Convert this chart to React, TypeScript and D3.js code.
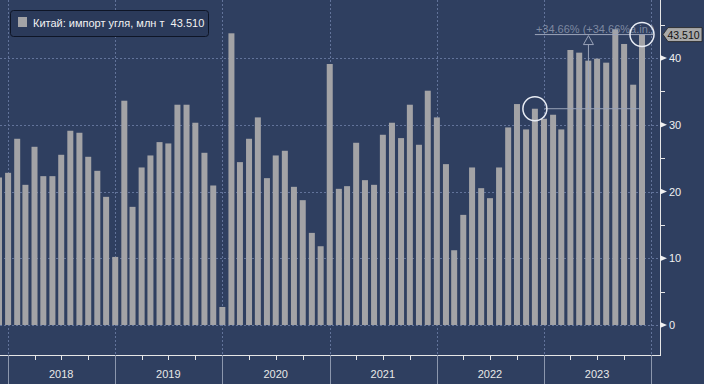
import { useEffect, useRef } from 'react';
import * as d3 from 'd3';

// China coal imports, mln t, monthly from Nov 2017 to Nov 2023
const firstMonth = new Date(2017, 10, 1);
const importValues = [
  22.1, 22.8, 27.9, 21.0, 26.7, 22.3, 22.3, 25.5, 29.1, 28.8, 25.2, 23.1, 19.2,
  10.2, 33.6, 17.7, 23.6, 25.4, 27.4, 27.2, 33.0, 33.0, 30.3, 25.8, 20.9,
  2.7, 43.7, 24.4, 27.9, 31.1, 22.0, 25.4, 26.1, 20.7, 18.7, 13.8, 11.8,
  39.1, 20.4, 20.8, 27.3, 21.7, 21.0, 28.5, 30.3, 28.0, 33.0, 27.0, 35.1,
  31.1, 24.1, 11.2, 16.5, 23.6, 20.5, 19.0, 23.6, 29.6, 33.1, 29.3, 32.4,
  30.9, 31.5, 29.3, 41.2, 40.8, 39.6, 39.9, 39.3, 44.3, 42.1, 36.0, 43.51,
];
const yearLabels = ['2018', '2019', '2020', '2021', '2022', '2023'];
const majorTicks = [0, 10, 20, 30, 40];
const minorTicks = [5, 15, 25, 35, 45];
const legendText = 'Китай: импорт угля, млн т  43.510';
const lastLabel = '43.510';
const changeText = '+34.66% (+34.66%a.in.)';

const W = 704;
const H = 384;
const BG = '#2f3f60';
const BAR = '#a3a3a6';
const GRID = '#62739a';
const FONT = '"Liberation Sans", Arial, sans-serif';

export default function App() {
  const svgRef = useRef<SVGSVGElement | null>(null);

  useEffect(() => {
    if (!svgRef.current) return;
    const svg = d3.select(svgRef.current);
    svg.selectAll('*').remove();

    const plotRight = 660;
    const plotBottom = 355;

    const x = d3.scaleTime()
      .domain([new Date(2018, 0, 1), new Date(2024, 0, 1)])
      .range([8.1, 651.1]);
    const y = d3.scaleLinear().domain([0, 40]).range([325, 58]);

    // bars sit at the end of their month
    const data = importValues.map((v, i) => ({
      date: d3.timeMonth.offset(firstMonth, i + 1),
      value: v,
    }));
    const barW = 6;

    svg.append('rect').attr('width', W).attr('height', H).attr('fill', BG);

    // grid
    const years = d3.range(2018, 2025).map(yr => new Date(yr, 0, 1));
    svg.append('g').selectAll('line')
      .data(majorTicks)
      .join('line')
      .attr('x1', 0).attr('x2', plotRight)
      .attr('y1', d => Math.round(y(d)) + 0.5).attr('y2', d => Math.round(y(d)) + 0.5)
      .attr('stroke', GRID).attr('stroke-dasharray', '2,2');
    svg.append('g').selectAll('line')
      .data(years)
      .join('line')
      .attr('x1', d => Math.round(x(d)) + 0.5).attr('x2', d => Math.round(x(d)) + 0.5)
      .attr('y1', 0).attr('y2', plotBottom)
      .attr('stroke', GRID).attr('stroke-dasharray', '2,2');

    // bars
    svg.append('g').selectAll('rect')
      .data(data)
      .join('rect')
      .attr('x', d => x(d.date) - barW / 2)
      .attr('width', barW)
      .attr('y', d => y(d.value))
      .attr('height', d => y(0) - y(d.value))
      .attr('fill', BAR);

    // annotation: change between Nov 2022 and Nov 2023
    const from = data[data.length - 13];
    const to = data[data.length - 1];
    const ann = svg.append('g');
    const annColor = '#9aa3b8';
    const x0 = x(from.date);
    const x1 = x(to.date);
    const midX = (x0 + x1) / 2;
    ann.append('line')
      .attr('x1', x0 + 10).attr('x2', x1)
      .attr('y1', y(from.value)).attr('y2', y(from.value))
      .attr('stroke', annColor).attr('stroke-width', 1);
    ann.append('line')
      .attr('x1', x0).attr('x2', x1 + 11)
      .attr('y1', y(to.value)).attr('y2', y(to.value))
      .attr('stroke', annColor).attr('stroke-width', 1);
    ann.append('line')
      .attr('x1', midX).attr('x2', midX)
      .attr('y1', y(from.value)).attr('y2', y(to.value) + 10)
      .attr('stroke', annColor).attr('stroke-width', 1);
    ann.append('path')
      .attr('d', `M${midX},${y(to.value) + 1}L${midX - 5},${y(to.value) + 10}L${midX + 5},${y(to.value) + 10}Z`)
      .attr('fill', 'none').attr('stroke', annColor).attr('stroke-width', 1);
    ann.append('text')
      .attr('x', x0 + 1).attr('y', y(to.value) - 2)
      .attr('fill', annColor).attr('fill-opacity', 0.75)
      .attr('font-family', FONT).attr('font-size', 11)
      .text(changeText);
    [from, to].forEach(d => {
      ann.append('circle')
        .attr('cx', x(d.date)).attr('cy', y(d.value)).attr('r', 12)
        .attr('fill', 'none').attr('stroke', '#e8ecf4').attr('stroke-width', 1.5);
    });

    // right axis
    const axis = svg.append('g');
    axis.append('line')
      .attr('x1', plotRight + 0.5).attr('x2', plotRight + 0.5)
      .attr('y1', 0).attr('y2', plotBottom)
      .attr('stroke', '#e6e6e6');
    axis.append('line')
      .attr('x1', 0).attr('x2', plotRight + 1)
      .attr('y1', plotBottom + 0.5).attr('y2', plotBottom + 0.5)
      .attr('stroke', '#e6e6e6');
    axis.selectAll('.minor')
      .data(minorTicks)
      .join('line')
      .attr('class', 'minor')
      .attr('x1', plotRight).attr('x2', plotRight + 5)
      .attr('y1', d => Math.round(y(d)) + 0.5).attr('y2', d => Math.round(y(d)) + 0.5)
      .attr('stroke', '#e6e6e6');
    axis.selectAll('.major')
      .data(majorTicks)
      .join('path')
      .attr('class', 'major')
      .attr('d', d => `M${plotRight},${y(d) - 3}L${plotRight + 7},${y(d)}L${plotRight},${y(d) + 3}Z`)
      .attr('fill', '#f0f0f0');
    axis.selectAll('.lbl')
      .data(majorTicks)
      .join('text')
      .attr('class', 'lbl')
      .attr('x', plotRight + 9).attr('y', d => y(d) + 4)
      .attr('fill', '#f0f0f0')
      .attr('font-family', FONT).attr('font-size', 11)
      .text(d => d);

    // last value tag
    const ly = y(to.value);
    axis.append('path')
      .attr('d', `M${plotRight + 3},${ly}L${plotRight + 8},${ly - 7}L${W - 2},${ly - 7}L${W - 2},${ly + 7}L${plotRight + 8},${ly + 7}Z`)
      .attr('fill', '#a9a9a9').attr('stroke', '#222').attr('stroke-width', 0.8);
    axis.append('text')
      .attr('x', plotRight + 7.5).attr('y', ly + 4)
      .attr('fill', '#111')
      .attr('font-family', FONT).attr('font-size', 10.5)
      .text(lastLabel);

    // bottom year axis
    const bottom = svg.append('g');
    bottom.selectAll('.sep')
      .data(years)
      .join('line')
      .attr('class', 'sep')
      .attr('x1', d => Math.round(x(d)) + 0.5).attr('x2', d => Math.round(x(d)) + 0.5)
      .attr('y1', plotBottom).attr('y2', H)
      .attr('stroke', '#8c97ad');
    const quarters = d3.timeMonth.every(3)!
      .range(new Date(2018, 0, 1), new Date(2024, 0, 1))
      .filter(d => d.getMonth() !== 0);
    bottom.selectAll('.q')
      .data(quarters)
      .join('line')
      .attr('class', 'q')
      .attr('x1', d => Math.round(x(d)) + 0.5).attr('x2', d => Math.round(x(d)) + 0.5)
      .attr('y1', plotBottom).attr('y2', plotBottom + 5)
      .attr('stroke', '#e6e6e6');
    bottom.selectAll('text')
      .data(yearLabels)
      .join('text')
      .attr('x', d => x(new Date(+d, 6, 1)))
      .attr('y', 378)
      .attr('text-anchor', 'middle')
      .attr('fill', '#e8e8e8')
      .attr('font-family', FONT).attr('font-size', 11)
      .text(d => d);

    // legend
    const lg = svg.append('g');
    lg.append('rect')
      .attr('x', 10.5).attr('y', 10.5).attr('width', 198).attr('height', 26).attr('rx', 3)
      .attr('fill', '#2b3a5a').attr('stroke', '#0e1526');
    lg.append('rect')
      .attr('x', 18).attr('y', 17).attr('width', 9).attr('height', 10)
      .attr('fill', BAR);
    lg.append('text')
      .attr('x', 33).attr('y', 27)
      .attr('fill', '#f2f2f2')
      .attr('font-family', FONT).attr('font-size', 11)
      .attr('xml:space', 'preserve')
      .text(legendText);
  }, []);

  return (
    <svg
      ref={svgRef}
      width={W}
      height={H}
      style={{ position: 'absolute', left: 0, top: 0, display: 'block' }}
    />
  );
}
